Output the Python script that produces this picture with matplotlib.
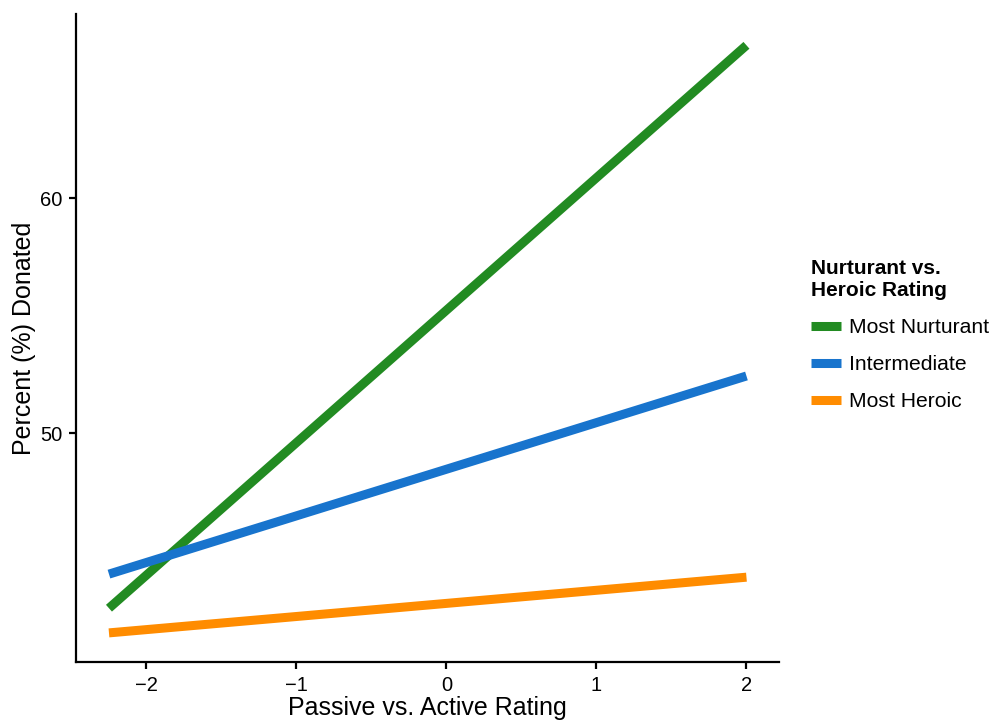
import matplotlib.pyplot as plt

plt.rcParams['font.family'] = ['Liberation Sans', 'DejaVu Sans']

# predicted percent donated at the ends of the passive/active range
x_ends = [-2.25, 2.0]
groups = ['Most Nurturant', 'Intermediate', 'Most Heroic']
nurturant = [42.55, 66.5]
intermediate = [44.0, 52.43]
heroic = [41.5, 43.87]
colors = ['#228B22', '#1874CD', '#FF8C00']

fig = plt.figure(figsize=(9.93, 7.24), dpi=100)
ax = fig.add_axes([0.0765, 0.0856, 0.708, 0.895])

for ys, lab, c in zip([nurturant, intermediate, heroic], groups, colors):
    ax.plot(x_ends, ys, color=c, lw=6.5, solid_capstyle='butt', label=lab)

ax.set_xlim(-2.47, 2.217)
ax.set_ylim(40.26, 67.83)
ax.set_xticks([-2, -1, 0, 1, 2])
ax.set_xticklabels(['\u22122', '\u22121', '0', '1', '2'])
ax.set_yticks([50, 60])

for s in ['top', 'right']:
    ax.spines[s].set_visible(False)
for s in ['left', 'bottom']:
    ax.spines[s].set_linewidth(1.6)
ax.tick_params(direction='out', length=5, width=1.6, labelsize=14.5, pad=5)

ax.set_xlabel('Passive vs. Active Rating', fontsize=18, labelpad=1)
ax.set_ylabel('Percent (%) Donated', fontsize=18, labelpad=3)

leg = ax.legend(title='Nurturant vs.\nHeroic Rating', loc='upper left',
                bbox_to_anchor=(1.019, 0.651), frameon=False, fontsize=15.2,
                title_fontproperties={'weight': 'bold', 'size': 15},
                handlelength=1.42, handletextpad=0.38, labelspacing=0.85)
leg._legend_box.align = 'left'

fig.savefig('out.png', dpi=100)
